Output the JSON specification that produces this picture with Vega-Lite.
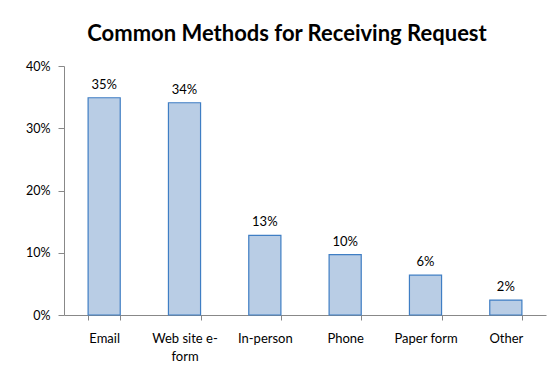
{
  "$schema": "https://vega.github.io/schema/vega-lite/v6.json",
  "autosize": {"type": "none"},
  "width": 482,
  "height": 249,
  "padding": {"left": 64, "top": 66, "right": 10, "bottom": 62},
  "background": "white",
  "config": {"font": "Lato", "view": {"stroke": null}},
  "title": {
    "text": "Common Methods for Receiving Request",
    "fontSize": 22,
    "fontWeight": "bold",
    "font": "Lato",
    "color": "#000000",
    "anchor": "middle",
    "dx": -18,
    "offset": 14
  },
  "data": {
    "values": [
      {"method": "Email", "share": 0.349},
      {"method": "Web site e-form", "share": 0.341},
      {"method": "In-person", "share": 0.128},
      {"method": "Phone", "share": 0.097},
      {"method": "Paper form", "share": 0.064},
      {"method": "Other", "share": 0.024}
    ]
  },
  "encoding": {
    "x": {
      "field": "method",
      "type": "nominal",
      "sort": null,
      "scale": {"paddingInner": 0.6, "paddingOuter": 0.3},
      "axis": {
        "title": null,
        "labelAngle": 0,
        "labelFontSize": 13,
        "labelColor": "#000000",
        "labelPadding": 12,
        "labelLineHeight": 18,
        "tickSize": 5,
        "tickBand": "extent",
        "domainColor": "#888888",
        "tickColor": "#888888",
        "labelExpr": "datum.label == 'Web site e-form' ? ['Web site e-', 'form'] : datum.label"
      }
    },
    "y": {
      "field": "share",
      "type": "quantitative",
      "scale": {"domain": [0, 0.4]},
      "axis": {
        "title": null,
        "values": [0, 0.1, 0.2, 0.3, 0.4],
        "format": ".0%",
        "grid": false,
        "labelFontSize": 12.5,
        "labelColor": "#000000",
        "labelPadding": 8,
        "tickSize": 6,
        "domainColor": "#888888",
        "tickColor": "#888888"
      }
    }
  },
  "layer": [
    {
      "mark": {"type": "bar", "fill": "#b9cde5", "stroke": "#3f7ec4", "strokeWidth": 1.2}
    },
    {
      "mark": {"type": "text", "dy": -13, "fontSize": 13, "color": "#000000", "font": "Lato"},
      "encoding": {"text": {"field": "share", "type": "quantitative", "format": ".0%"}}
    }
  ]
}
